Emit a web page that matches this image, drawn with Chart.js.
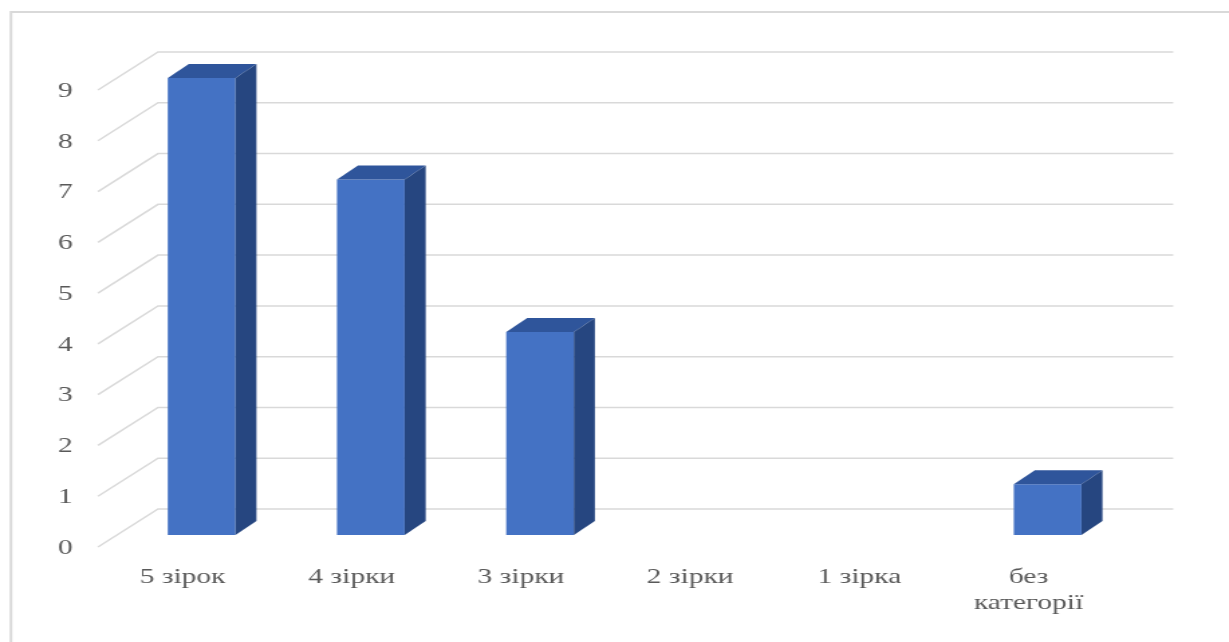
<!DOCTYPE html>
<html>
<head>
<meta charset="utf-8">
<script src="https://cdn.jsdelivr.net/npm/chart.js@4.4.1/dist/chart.umd.min.js"></script>
<style>
  html, body { margin: 0; padding: 0; background: #fff; overflow: hidden; }
  /* the whole figure is drawn narrow and then stretched sideways */
  #wrap { width: 917px; height: 642px; transform: scaleX(1.3402); transform-origin: 0 0; }
</style>
</head>
<body>
<div id="wrap"><canvas id="myChart" width="917" height="642"></canvas></div>
<script>
const categories = ["5 зірок", "4 зірки", "3 зірки", "2 зірки", "1 зірка", ["без", "категорії"]];
const hotelCounts = [9, 7, 4, 0, 0, 1];
const yMin = 0;
const yMax = 9;

// 3D look: back wall offset, front floor edge offset, bar depth
const WALL = { dx: 30.6, dy: -26 };
const FLOOR = { dx: -14.2, dy: 12 };
const DEPTH = { dx: 15.7, dy: -14 };

const textFont = { family: "'Liberation Serif', 'Times New Roman', serif", size: 22 };

const ctx = document.getElementById("myChart");

// frame + back wall grid with slanted floor lines
const wallPlugin = {
  id: "wall",
  beforeDraw(chart) {
    const c = chart.ctx;
    c.save();
    c.strokeStyle = "#d9d9d9";
    c.lineWidth = 2;
    c.beginPath();
    c.moveTo(8.2, 700);
    c.lineTo(8.2, 12);
    c.lineTo(1000, 12);
    c.stroke();
    c.restore();
  },
  beforeDatasetsDraw(chart) {
    const { ctx: c, chartArea, scales } = chart;
    const y = scales.y;
    c.save();
    c.strokeStyle = "#d9d9d9";
    c.lineWidth = 1.5;
    y.ticks.forEach((t) => {
      const py = y.getPixelForValue(t.value);
      const bx = chartArea.left + WALL.dx;
      const by = py + WALL.dy;
      c.beginPath();
      c.moveTo(chartArea.left + FLOOR.dx, py + FLOOR.dy);
      c.lineTo(bx, by);
      c.lineTo(chartArea.right + WALL.dx, by);
      c.stroke();
    });
    c.restore();
  },
  afterDatasetsDraw(chart) {
    const c = chart.ctx;
    const meta = chart.getDatasetMeta(0);
    c.save();
    meta.data.forEach((bar, i) => {
      if (!hotelCounts[i]) return;
      const { x, y, base, width } = bar.getProps(["x", "y", "base", "width"], true);
      const l = x - width / 2;
      const r = x + width / 2;
      // top face
      c.fillStyle = "#2f559b";
      c.beginPath();
      c.moveTo(l, y);
      c.lineTo(l + DEPTH.dx, y + DEPTH.dy);
      c.lineTo(r + DEPTH.dx, y + DEPTH.dy);
      c.lineTo(r, y);
      c.closePath();
      c.fill();
      // side face
      c.fillStyle = "#264680";
      c.beginPath();
      c.moveTo(r, y);
      c.lineTo(r + DEPTH.dx, y + DEPTH.dy);
      c.lineTo(r + DEPTH.dx, base + DEPTH.dy);
      c.lineTo(r, base);
      c.closePath();
      c.fill();
    });
    c.restore();
  },
};

new Chart(ctx, {
  type: "bar",
  data: {
    labels: categories,
    datasets: [
      {
        data: hotelCounts,
        backgroundColor: "#4472c4",
        borderWidth: 0,
        barPercentage: 0.4,
        categoryPercentage: 1,
      },
    ],
  },
  options: {
    responsive: false,
    animation: false,
    layout: { padding: { top: 78, right: 72.2, left: 0, bottom: 0 } },
    scales: {
      x: {
        grid: { display: false, drawTicks: false },
        border: { display: false },
        ticks: {
          font: textFont,
          color: "#595959",
          padding: 29,
          labelOffset: -14.2,
          maxRotation: 0,
          autoSkip: false,
        },
        afterFit: (s) => { s.height = 107; },
      },
      y: {
        min: yMin,
        max: yMax,
        grid: { display: false, drawTicks: false },
        border: { display: false },
        ticks: {
          stepSize: 1,
          font: textFont,
          color: "#595959",
          padding: 33,
          labelOffset: 13,
        },
        afterFit: (s) => { s.width = 87.3; },
      },
    },
    plugins: {
      legend: { display: false },
      tooltip: { enabled: false },
    },
  },
  plugins: [wallPlugin],
});
</script>
</body>
</html>
